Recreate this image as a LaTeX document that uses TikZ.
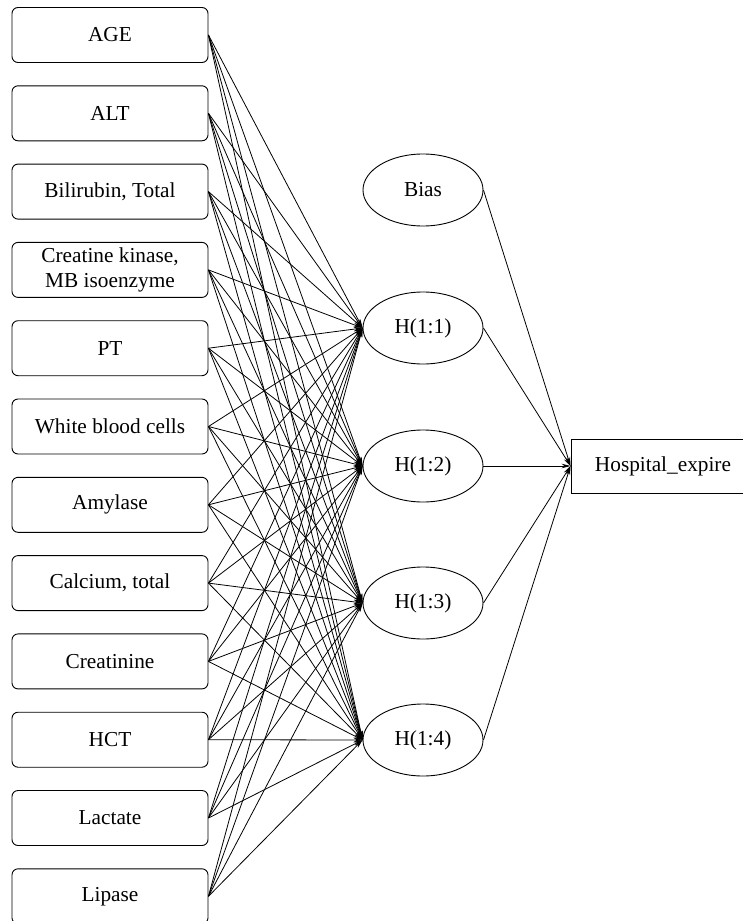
\documentclass[tikz,border=0pt]{standalone}
\usepackage{fontspec}
\setmainfont{Liberation Serif}
\usetikzlibrary{shapes.geometric,arrows.meta}
\begin{document}
\begin{tikzpicture}[
  x=1pt, y=-1pt,
  font=\fontsize{21.3}{25.5}\selectfont,
  inbox/.style={rectangle, draw, rounded corners=6pt, line width=0.9pt, minimum width=196pt, minimum height=55pt, inner sep=0pt, align=center},
  neuron/.style={ellipse, draw, line width=0.9pt, minimum width=120pt, minimum height=72pt, inner sep=0pt},
  outbox/.style={rectangle, draw, line width=0.9pt, minimum width=184pt, minimum height=54pt, inner sep=0pt},
  arrow/.style={-{Stealth[length=9pt,width=4.5pt]}, line width=0.8pt}
]
\useasboundingbox (0,0) rectangle (743,921);
% input layer
\foreach \i/\name in {1/AGE, 2/ALT, 3/{Bilirubin, Total}, 4/{Creatine kinase,\\MB isoenzyme},
  5/PT, 6/White blood cells, 7/Amylase, 8/{Calcium, total}, 9/Creatinine, 10/HCT, 11/Lactate, 12/Lipase}
  \node[inbox] (in\i) at (110, {35+78.3*(\i-1)}) {\name};
% hidden layer and bias
\node[neuron] (bias) at (423,190) {Bias};
\node[neuron] (h1) at (423,328) {H(1:1)};
\node[neuron] (h2) at (423,466) {H(1:2)};
\node[neuron] (h3) at (423,603) {H(1:3)};
\node[neuron] (h4) at (423,740) {H(1:4)};
% output
\node[outbox] (out) at (663,466) {Hospital\_expire};
\foreach \i in {1,...,12}
  \foreach \j in {1,...,4}
    \draw[arrow] (in\i.east) -- (h\j.west);
\draw[arrow] (bias.east) -- (out.west);
\foreach \j in {1,...,4}
  \draw[arrow] (h\j.east) -- (out.west);
\end{tikzpicture}
\end{document}
